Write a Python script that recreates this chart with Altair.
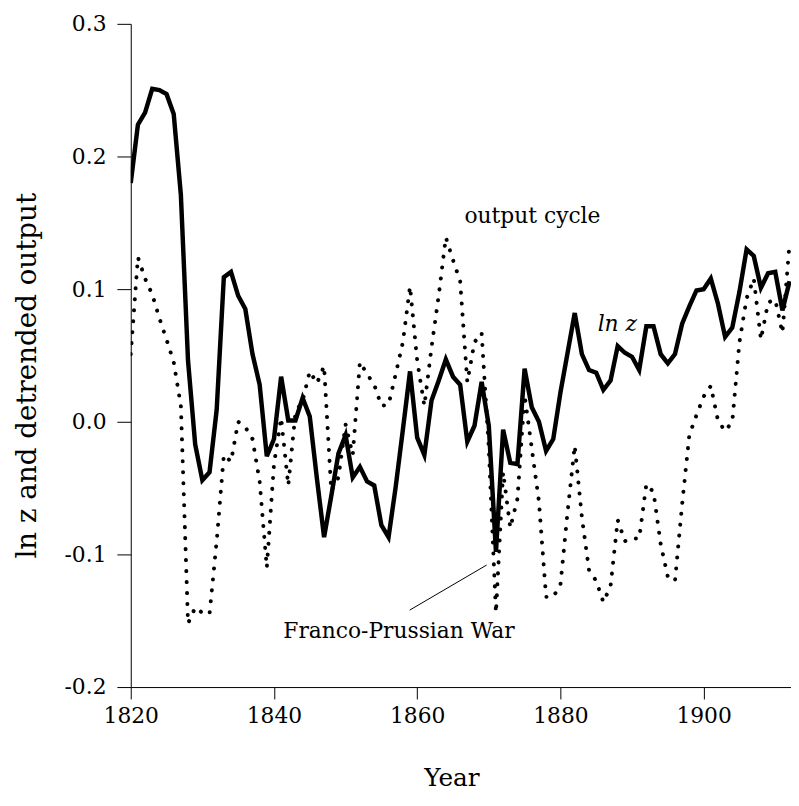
import altair as alt
import pandas as pd

years = list(range(1820, 1913))

ln_z = [
    0.180, 0.224, 0.233, 0.251, 0.250, 0.247, 0.232, 0.171, 0.046, -0.017,
    -0.044, -0.038, 0.009, 0.109, 0.113, 0.095, 0.085, 0.051, 0.028, -0.026,
    -0.013, 0.034, 0.001, 0.001, 0.018, 0.004, -0.043, -0.087, -0.056, -0.024,
    -0.010, -0.042, -0.034, -0.045, -0.048, -0.078, -0.087, -0.049, -0.006, 0.038,
    -0.012, -0.025, 0.016, 0.031, 0.047, 0.034, 0.028, -0.015, -0.003, 0.030,
    -0.003, -0.098, -0.006, -0.031, -0.032, 0.040, 0.011, 0.000, -0.022, -0.013,
    0.022, 0.052, 0.082, 0.051, 0.039, 0.037, 0.024, 0.031, 0.057, 0.052,
    0.049, 0.039, 0.072, 0.072, 0.051, 0.044, 0.051, 0.074, 0.087, 0.099,
    0.100, 0.108, 0.089, 0.064, 0.071, 0.098, 0.130, 0.125, 0.101, 0.112,
    0.113, 0.084, 0.106,
]

output_cycle = [
    0.051, 0.124, 0.108, 0.096, 0.078, 0.062, 0.045, 0.012, -0.152, -0.140,
    -0.144, -0.145, -0.090, -0.025, -0.030, 0.000, -0.004, -0.013, -0.045, -0.110,
    -0.032, 0.003, -0.048, 0.007, 0.016, 0.038, 0.029, 0.042, -0.052, -0.042,
    -0.002, -0.025, 0.045, 0.036, 0.028, 0.012, 0.013, 0.036, 0.060, 0.102,
    0.046, 0.012, 0.056, 0.095, 0.139, 0.122, 0.106, 0.030, 0.060, 0.067,
    -0.020, -0.144, -0.038, -0.080, -0.058, 0.020, -0.020, -0.060, -0.132, -0.132,
    -0.123, -0.068, -0.018, -0.072, -0.112, -0.120, -0.136, -0.124, -0.074, -0.090,
    -0.088, -0.088, -0.047, -0.053, -0.092, -0.117, -0.120, -0.062, -0.010, 0.005,
    0.019, 0.027, 0.001, -0.007, 0.000, 0.060, 0.093, 0.108, 0.062, 0.090,
    0.092, 0.067, 0.135,
]

x_ticks = [1820, 1840, 1860, 1880, 1900]
y_ticks = [-0.2, -0.1, 0.0, 0.1, 0.2, 0.3]

# annotations (data coordinates)
label_text = ["output cycle", "Franco-Prussian War"]
label_x = [1866.6, 1841.3]
label_y = [0.150, -0.163]
italic_text = ["ln z"]
italic_x = [1885.2]
italic_y = [0.0687]
pointer_x = [1858.95]
pointer_y = [-0.142]
pointer_x2 = [1869.7]
pointer_y2 = [-0.108]

FONT = "DejaVu Serif"

df = pd.DataFrame({"year": years, "ln_z": ln_z, "output_cycle": output_cycle})
labels_df = pd.DataFrame({"t": label_text, "x": label_x, "y": label_y})
italic_df = pd.DataFrame({"t": italic_text, "x": italic_x, "y": italic_y})
pointer_df = pd.DataFrame({"x": pointer_x, "y": pointer_y, "x2": pointer_x2, "y2": pointer_y2})

x_scale = alt.Scale(domain=[1820, 1912.2], nice=False, zero=False)
y_scale = alt.Scale(domain=[-0.2, 0.3], nice=False, zero=False)

x_axis = alt.Axis(
    values=x_ticks, format="d", title="Year", grid=False,
    domainColor="black", tickColor="black", tickSize=12, domainWidth=1, tickWidth=1,
    labelFont=FONT, labelFontSize=22, labelColor="black", labelPadding=7,
    labelFlush=False, labelOverlap=False,
    titleFont=FONT, titleFontSize=25, titleFontWeight="normal", titleColor="black",
    titleX=324, titleY=99, titleBaseline="alphabetic", titleAlign="center",
)
y_axis = alt.Axis(
    values=y_ticks, title="ln z and detrended output", grid=False,
    labelExpr="datum.value < -0.0001 ? '-' + format(-datum.value, '.1f') : format(abs(datum.value), '.1f')",
    domainColor="black", tickColor="black", tickSize=14, domainWidth=1, tickWidth=1,
    labelFont=FONT, labelFontSize=22, labelColor="black", labelPadding=11,
    labelFlush=False, labelOverlap=False,
    titleFont=FONT, titleFontSize=28, titleFontWeight="normal", titleColor="black",
    titleX=-96, titleY=355, titleAngle=270, titleBaseline="alphabetic", titleAlign="center",
)

base = alt.Chart(df)

solid = base.mark_line(color="black", strokeWidth=4.5, clip=True).encode(
    x=alt.X("year:Q", scale=x_scale, axis=x_axis),
    y=alt.Y("ln_z:Q", scale=y_scale, axis=y_axis),
)

dotted = base.mark_line(
    color="black", strokeWidth=4, strokeDash=[0.1, 11], strokeCap="round", clip=True
).encode(
    x=alt.X("year:Q", scale=x_scale),
    y=alt.Y("output_cycle:Q", scale=y_scale),
)

pointer = alt.Chart(pointer_df).mark_rule(color="black", strokeWidth=1).encode(
    x=alt.X("x:Q", scale=x_scale), y=alt.Y("y:Q", scale=y_scale),
    x2="x2:Q", y2="y2:Q",
)

labels = alt.Chart(labels_df).mark_text(
    font=FONT, fontSize=22, color="black", align="left", baseline="alphabetic"
).encode(
    x=alt.X("x:Q", scale=x_scale), y=alt.Y("y:Q", scale=y_scale), text="t:N"
)

italic = alt.Chart(italic_df).mark_text(
    font=FONT, fontSize=22, fontStyle="italic", color="black", align="left", baseline="alphabetic"
).encode(
    x=alt.X("x:Q", scale=x_scale), y=alt.Y("y:Q", scale=y_scale), text="t:N"
)

chart = alt.layer(solid, dotted, pointer, labels, italic).properties(
    width=667, height=670,
    autosize=alt.AutoSizeParams(type="none"),
    padding={"left": 124, "top": 12, "right": 0, "bottom": 102},
    background="white",
).configure_view(stroke=None)

chart.save("out.html", embed_options={"renderer": "svg", "actions": False})
